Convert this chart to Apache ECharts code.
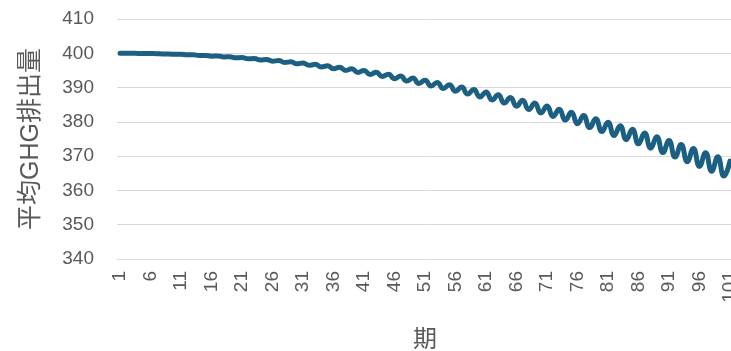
<!DOCTYPE html>
<html>
<head>
<meta charset="utf-8">
<script src="https://cdn.jsdelivr.net/npm/echarts@6/dist/echarts.min.js"></script>
<style>
html,body{margin:0;padding:0;background:#fff;}
#c{width:731px;height:351px;}
</style>
</head>
<body>
<div id="c"></div>
<script>
const periods = [1,2,3,4,5,6,7,8,9,10,11,12,13,14,15,16,17,18,19,20,21,22,23,24,25,26,27,28,29,30,31,32,33,34,35,36,37,38,39,40,41,42,43,44,45,46,47,48,49,50,51,52,53,54,55,56,57,58,59,60,61,62,63,64,65,66,67,68,69,70,71,72,73,74,75,76,77,78,79,80,81,82,83,84,85,86,87,88,89,90,91,92,93,94,95,96,97,98,99,100,101];
const avgGHG = [400.00,400.00,399.99,399.97,399.95,399.91,399.89,399.82,399.80,399.70,
399.69,399.55,399.55,399.38,399.39,399.17,399.20,398.94,398.99,398.67,
398.75,398.38,398.49,398.06,398.20,397.71,397.88,397.33,397.54,396.92,
397.18,396.48,396.79,396.01,396.38,395.51,395.94,394.98,395.47,394.43,
394.98,393.84,394.46,393.23,393.92,392.59,393.36,391.91,392.77,391.21,
392.15,390.48,391.51,389.72,390.84,388.93,390.15,388.11,389.43,387.26,
388.69,386.39,387.92,385.48,387.13,384.55,386.31,383.58,385.47,382.59,
384.60,381.56,383.71,380.51,382.79,379.43,381.84,378.32,380.87,377.18,
379.88,376.01,378.86,374.81,377.82,373.59,376.75,372.33,375.65,371.04,
374.53,369.73,373.38,368.38,372.21,367.01,371.02,365.61,369.80,364.18,
368.55];
const yMin = 340, yMax = 410, yStep = 10;
const xName = '期';
const yName = '平均GHG排出量';

const chart = echarts.init(document.getElementById('c'), null, {renderer:'canvas'});
const font = "'Liberation Sans', Arial, 'Noto Sans CJK JP', sans-serif";
chart.setOption({
  animation: false,
  backgroundColor: '#ffffff',
  grid: {left: 117, top: 19, bottom: 92, width: 616, containLabel: false, outerBoundsMode: 'none'},
  xAxis: {
    type: 'category',
    data: periods,
    boundaryGap: true,
    name: xName,
    nameLocation: 'middle',
    nameGap: 67,
    nameTextStyle: {fontSize: 24, color: '#595959', fontFamily: "'Noto Sans CJK JP', sans-serif"},
    axisLine: {show: true, lineStyle: {color: '#d9d9d9', width: 1}},
    axisTick: {show: false},
    axisLabel: {interval: 4, rotate: 90, margin: 12, fontSize: 19, color: '#595959', fontFamily: font, hideOverlap: false},
    splitLine: {show: false}
  },
  yAxis: {
    type: 'value',
    min: yMin, max: yMax, interval: yStep,
    name: yName,
    nameLocation: 'middle',
    nameGap: 73,
    nameTextStyle: {fontSize: 25, color: '#595959', fontFamily: font},
    axisLine: {show: false},
    axisTick: {show: false},
    axisLabel: {margin: 23, fontSize: 19, color: '#595959', fontFamily: font},
    splitLine: {show: true, lineStyle: {color: '#d9d9d9', width: 1}}
  },
  series: [{
    type: 'line',
    data: avgGHG,
    smooth: true,
    showSymbol: false,
    symbol: 'none',
    lineStyle: {color: '#1b5f82', width: 5, cap: 'round', join: 'round'},
    itemStyle: {color: '#1b5f82'}
  }]
});
</script>
</body>
</html>
